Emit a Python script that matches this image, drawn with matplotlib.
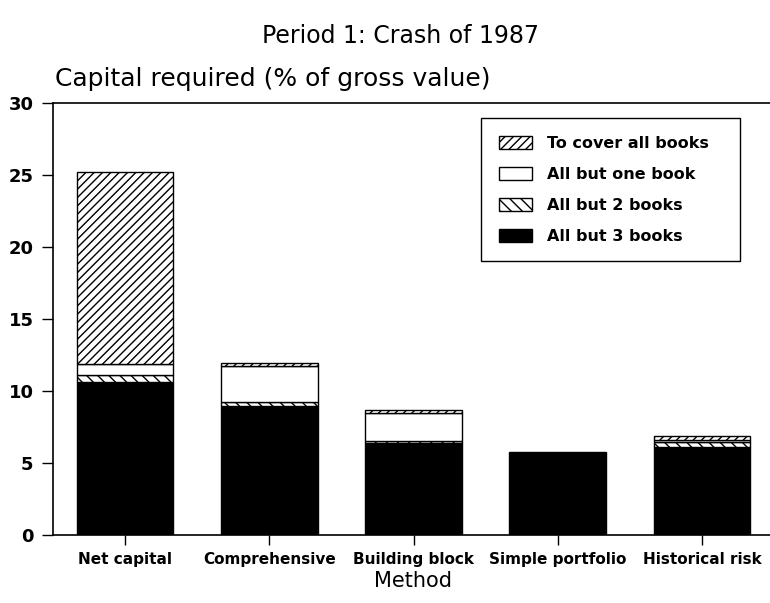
import matplotlib
matplotlib.use("Agg")
import matplotlib.pyplot as plt
import numpy as np

# Data (cumulative levels, % of gross value)
methods = ["Net capital", "Comprehensive", "Building block", "Simple portfolio", "Historical risk"]
all_but_3 = [10.65, 8.98, 6.37, 5.62, 6.13]
all_but_2 = [11.10, 9.26, 6.50, 5.66, 6.44]
all_but_1 = [11.90, 11.74, 8.45, 5.70, 6.60]
all_books = [25.20, 11.97, 8.68, 5.79, 6.87]

series_labels = ["To cover all books", "All but one book", "All but 2 books", "All but 3 books"]
yticks = [0, 5, 10, 15, 20, 25, 30]

plt.rcParams["hatch.linewidth"] = 1.0
plt.rcParams["font.family"] = ["DejaVu Sans"]

fig = plt.figure(figsize=(7.7, 6.03), dpi=100)
ax = fig.add_axes([53 / 770, 68 / 603, 721 / 770, 432 / 603])

x = np.arange(len(methods))
w = 0.67
b3 = np.array(all_but_3)
b2 = np.array(all_but_2)
b1 = np.array(all_but_1)
b0 = np.array(all_books)

h3 = ax.bar(x, b3, w, color="black", edgecolor="black", linewidth=1, label=series_labels[3])
h2 = ax.bar(x, b2 - b3, w, bottom=b3, color="white", edgecolor="black", hatch="\\\\\\",
            linewidth=1, label=series_labels[2])
h1 = ax.bar(x, b1 - b2, w, bottom=b2, color="white", edgecolor="black",
            linewidth=1, label=series_labels[1])
h0 = ax.bar(x, b0 - b1, w, bottom=b1, color="white", edgecolor="black", hatch="////",
            linewidth=1, label=series_labels[0])

ax.set_xlim(-0.5, 4.5)
ax.set_ylim(0, 30)
ax.set_yticks(yticks)
ax.set_yticklabels([str(t) for t in yticks], fontsize=13, fontweight="bold")
ax.set_xticks(x)
ax.set_xticklabels(methods, fontsize=11, fontweight="bold")
ax.tick_params(axis="y", direction="out", length=8, width=1, pad=6)
ax.tick_params(axis="x", direction="out", length=7, width=1, pad=5)

for s in ["left", "bottom", "top"]:
    ax.spines[s].set_linewidth(1.2)
    ax.spines[s].set_color("black")
ax.spines["right"].set_visible(False)

ax.set_xlabel("Method", fontsize=15, labelpad=3)

fig.text(401 / 770, 1 - 36 / 603, "Period 1: Crash of 1987", ha="center", va="center", fontsize=17)
fig.text(55 / 770, 1 - 79 / 603, "Capital required (% of gross value)", ha="left", va="center", fontsize=18)

leg = ax.legend([h0, h1, h2, h3], series_labels, loc="upper left",
                bbox_to_anchor=(0.594, 0.965, 0.359, 0.0), mode="expand",
                borderaxespad=0, fancybox=False,
                edgecolor="black", framealpha=1, prop={"weight": "bold", "size": 11.5},
                handlelength=2.06, handleheight=0.9, labelspacing=0.99,
                handletextpad=0.95, borderpad=1.1)
leg.get_frame().set_linewidth(1.0)

fig.savefig("out.png", dpi=100)
